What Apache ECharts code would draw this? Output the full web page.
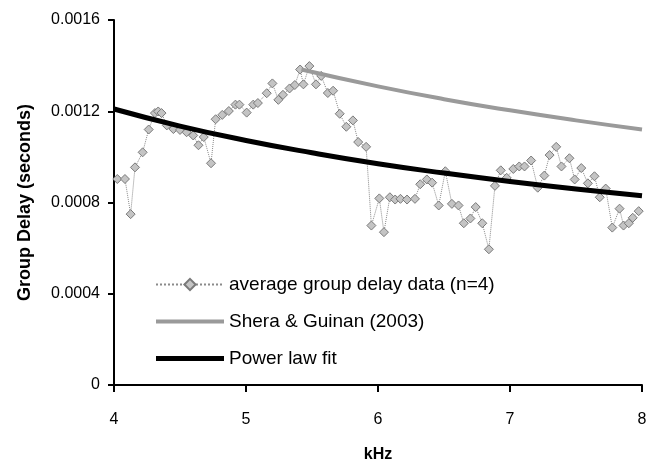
<!DOCTYPE html>
<html>
<head>
<meta charset="utf-8">
<script src="https://cdn.jsdelivr.net/npm/echarts@6/dist/echarts.min.js"></script>
<style>
  html, body { margin: 0; padding: 0; background: #fff; }
  #chart { width: 656px; height: 468px; }
</style>
</head>
<body>
<div id="chart"></div>
<script>
// Measured group delay, averaged over 4 ears (frequency in kHz, delay in seconds)
const freqKHz = [
  4.025, 4.083, 4.126, 4.159, 4.217, 4.263, 4.31, 4.335, 4.36, 4.40,
  4.45, 4.50, 4.55, 4.60, 4.64, 4.68, 4.735, 4.77, 4.82, 4.87,
  4.92, 4.95, 5.005, 5.055, 5.09, 5.157, 5.20, 5.245, 5.28, 5.33,
  5.37, 5.41, 5.435, 5.48, 5.53, 5.57, 5.62, 5.66, 5.71, 5.76,
  5.81, 5.85, 5.91, 5.95, 6.01, 6.045, 6.09, 6.13, 6.17, 6.22,
  6.28, 6.32, 6.37, 6.41, 6.46, 6.51, 6.56, 6.61, 6.65, 6.70,
  6.74, 6.79, 6.84, 6.886, 6.93, 6.975, 7.025, 7.07, 7.11, 7.16,
  7.21, 7.26, 7.30, 7.35, 7.39, 7.45, 7.49, 7.54, 7.59, 7.64,
  7.68, 7.725, 7.775, 7.83, 7.86, 7.90, 7.93, 7.975
];
const groupDelay = [
  0.000903, 0.000903, 0.000749, 0.000954, 0.00102, 0.00112, 0.001192, 0.001199, 0.001192, 0.001138,
  0.001122, 0.001118, 0.001108, 0.001094, 0.001051, 0.001087, 0.000972, 0.001165, 0.001184, 0.001201,
  0.001229, 0.001229, 0.001194, 0.001229, 0.001236, 0.001279, 0.001322, 0.00125, 0.001272, 0.0013,
  0.001315, 0.001383, 0.001318, 0.001398, 0.001318, 0.001355, 0.00128, 0.00129, 0.001189, 0.001132,
  0.00116, 0.001065, 0.001044, 0.000699, 0.000818, 0.00067, 0.000823, 0.000813, 0.000816, 0.000813,
  0.000816, 0.00088, 0.000901, 0.000887, 0.000787, 0.000937, 0.000794, 0.000787, 0.000709, 0.00073,
  0.00078, 0.000709, 0.000595, 0.000873, 0.000941, 0.000908, 0.000947, 0.000958, 0.000958, 0.000984,
  0.000865, 0.000918, 0.001008, 0.001044, 0.000958, 0.000994, 0.000901, 0.000951, 0.000884, 0.000915,
  0.000823, 0.000861, 0.00069, 0.000773, 0.000699, 0.000709, 0.000733, 0.000762
];

// Shera & Guinan (2003) reference curve
const sheraFreq = [5.42, 6.0, 6.5, 7.0, 7.5, 8.0];
const sheraDelay = [0.001383, 0.001309, 0.001253, 0.001204, 0.00116, 0.00112];

// Power law fit through the measurements
const fitFreq = [4.0, 4.5, 5.0, 5.5, 6.0, 6.5, 7.0, 7.5, 8.0];
const fitDelay = [0.00121, 0.001135, 0.001072, 0.001018, 0.00097, 0.000929, 0.000892, 0.000859, 0.00083];

// Axis ticks
const xTicks = [4, 5, 6, 7, 8];
const yTickLabels = ['0', '0.0004', '0.0008', '0.0012', '0.0016'];

const zip = (xs, ys) => xs.map((x, i) => [x, ys[i]]);

// Legend swatch: a horizontal band of the given thickness, centred in a 68x14 box
// (the two specks pin the box corners so the band keeps its thickness)
const bandIcon = (h) => {
  const y0 = (14 - h) / 2, y1 = y0 + h;
  return 'path://M0,0L0.01,0L0,0.01Z M68,14L67.99,14L68,13.99Z ' +
    'M0,' + y0 + 'L68,' + y0 + 'L68,' + y1 + 'L0,' + y1 + 'Z';
};

const chart = echarts.init(document.getElementById('chart'), null, { renderer: 'canvas' });

const axisLine = { show: true, lineStyle: { color: '#000', width: 2 } };

chart.setOption({
  animation: false,
  backgroundColor: '#fff',
  textStyle: { fontFamily: 'Liberation Sans, Arial, sans-serif' },
  grid: { left: 114, right: 14, top: 20, bottom: 74, containLabel: false },
  legend: {
    orient: 'vertical',
    left: 150,
    top: 270,
    itemWidth: 68,
    itemHeight: 14,
    itemGap: 18,
    textStyle: { fontSize: 19, color: '#000', fontFamily: 'Liberation Sans, Arial, sans-serif' },
    data: [
      { name: 'average group delay data (n=4)' },
      { name: 'Shera & Guinan (2003)', icon: bandIcon(4) },
      { name: 'Power law fit', icon: bandIcon(5) }
    ]
  },
  xAxis: {
    type: 'value',
    min: xTicks[0],
    max: xTicks[xTicks.length - 1],
    interval: 1,
    name: 'kHz',
    nameLocation: 'middle',
    nameGap: 62,
    nameTextStyle: { fontSize: 16, fontWeight: 'bold', color: '#000' },
    axisLine: axisLine,
    axisTick: { show: true, inside: false, length: 7, lineStyle: { color: '#000', width: 2 } },
    axisLabel: { fontSize: 16, color: '#000', margin: 27 },
    splitLine: { show: false }
  },
  yAxis: {
    type: 'value',
    min: 0,
    max: 0.0016,
    interval: 0.0004,
    name: 'Group Delay (seconds)',
    nameLocation: 'middle',
    nameGap: 80,
    nameTextStyle: { fontSize: 18, fontWeight: 'bold', color: '#000' },
    axisLine: axisLine,
    axisTick: { show: true, inside: false, length: 6, lineStyle: { color: '#000', width: 2 } },
    axisLabel: {
      fontSize: 16, color: '#000', margin: 14,
      formatter: (v) => yTickLabels[Math.round(v / 0.0004)]
    },
    splitLine: { show: false }
  },
  series: [
    {
      name: 'average group delay data (n=4)',
      type: 'line',
      data: zip(freqKHz, groupDelay),
      symbol: 'diamond',
      symbolSize: 9,
      itemStyle: { color: '#c4c4c4', borderColor: '#7a7a7a', borderWidth: 1 },
      lineStyle: { color: '#8a8a8a', width: 1, type: 'dotted' },
      z: 2
    },
    {
      name: 'Shera & Guinan (2003)',
      type: 'line',
      data: zip(sheraFreq, sheraDelay),
      smooth: true,
      symbol: 'none',
      lineStyle: { color: '#9a9a9a', width: 4 },
      itemStyle: { color: '#9a9a9a' },
      z: 3
    },
    {
      name: 'Power law fit',
      type: 'line',
      data: zip(fitFreq, fitDelay),
      smooth: true,
      symbol: 'none',
      lineStyle: { color: '#000', width: 5 },
      itemStyle: { color: '#000' },
      z: 4
    }
  ]
});
</script>
</body>
</html>
